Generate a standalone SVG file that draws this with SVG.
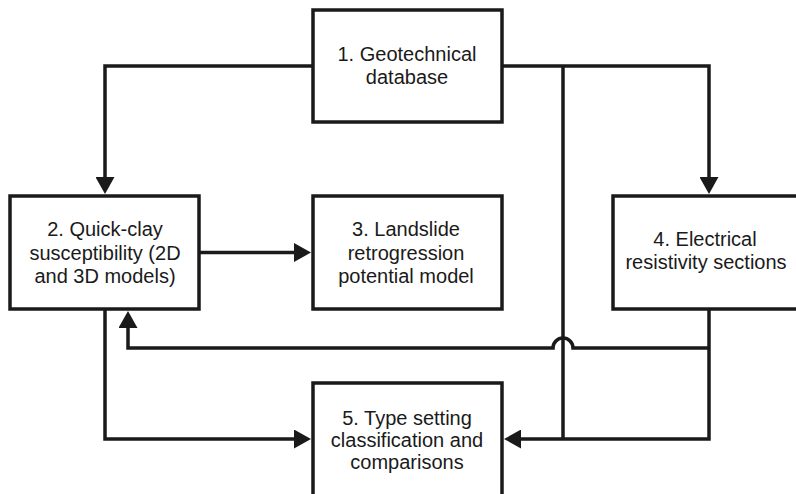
<svg xmlns="http://www.w3.org/2000/svg" width="796" height="494" viewBox="0 0 796 494">
<defs>
<style>
.box{fill:#fff;stroke:#1a1a1a;stroke-width:3.5}
.c{fill:none;stroke:#1a1a1a;stroke-width:3.5;stroke-linejoin:miter}
text{font-family:"Liberation Sans",Arial,sans-serif;font-size:20px;fill:#1a1a1a;text-anchor:middle}
</style>
<marker id="ah" viewBox="0 0 17 19" refX="12" refY="9.5" markerWidth="17" markerHeight="19" markerUnits="userSpaceOnUse" orient="auto">
<path d="M0,0 L17,9.5 L0,19 Z" fill="#1a1a1a"/>
</marker>
</defs>
<rect width="796" height="494" fill="#fff"/>
<g id="connectors">
<path class="c" d="M313,66 H105 V189" marker-end="url(#ah)"/>
<path class="c" d="M502,66 H709 V189" marker-end="url(#ah)"/>
<path class="c" d="M563,66 V439"/>
<path class="c" d="M199,252.5 H306" marker-end="url(#ah)"/>
<path class="c" d="M709,309 V439 H509" marker-end="url(#ah)"/>
<path class="c" d="M709,348 H573 A10,10 0 0 0 553,348 H128 V316" marker-end="url(#ah)"/>
<path class="c" d="M105,309 V439 H306" marker-end="url(#ah)"/>
</g>
<g id="node1">
<rect class="box" x="313" y="10" width="189" height="112"/>
<text x="407" y="61">1. Geotechnical</text>
<text x="407" y="84">database</text>
</g>
<g id="node2">
<rect class="box" x="10" y="196" width="189" height="113"/>
<text x="105" y="236">2. Quick-clay</text>
<text x="105" y="259.5">susceptibility (2D</text>
<text x="105" y="283">and 3D models)</text>
</g>
<g id="node3">
<rect class="box" x="313" y="196" width="189" height="113"/>
<text x="406" y="236">3. Landslide</text>
<text x="406" y="259.5">retrogression</text>
<text x="406" y="283">potential model</text>
</g>
<g id="node4">
<rect class="box" x="613" y="196" width="200" height="113"/>
<text x="705" y="246">4. Electrical</text>
<text x="706" y="268.5">resistivity sections</text>
</g>
<g id="node5">
<rect class="box" x="313" y="383" width="189" height="130"/>
<text x="407" y="425">5. Type setting</text>
<text x="407" y="447">classification and</text>
<text x="407" y="469">comparisons</text>
</g>
</svg>
